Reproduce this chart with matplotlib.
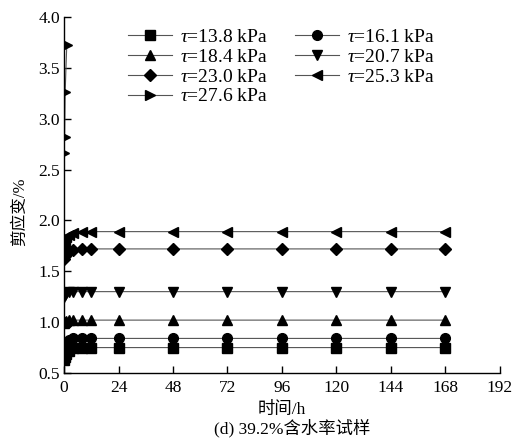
import matplotlib
matplotlib.use("Agg")
import matplotlib.pyplot as plt
from matplotlib.ticker import MultipleLocator, FormatStrFormatter

plt.rcParams['font.family'] = ['Liberation Serif', 'Noto Sans CJK SC']
plt.rcParams['mathtext.fontset'] = 'custom'
plt.rcParams['mathtext.rm'] = 'Liberation Serif'
plt.rcParams['mathtext.it'] = 'Liberation Serif:italic'

t_main = [0, 0.5, 1, 2, 4, 8, 12, 24, 48, 72, 96, 120, 144, 168]
s138 = [0.63, 0.66, 0.69, 0.72, 0.75, 0.75, 0.75, 0.75, 0.75, 0.75, 0.75, 0.75, 0.75, 0.75]
s161 = [0.73, 0.76, 0.79, 0.82, 0.84, 0.84, 0.84, 0.84, 0.84, 0.84, 0.84, 0.84, 0.84, 0.84]
s184 = [0.99, 1.00, 1.01, 1.02, 1.02, 1.02, 1.02, 1.02, 1.02, 1.02, 1.02, 1.02, 1.02, 1.02]
s207 = [1.25, 1.27, 1.29, 1.30, 1.30, 1.30, 1.30, 1.30, 1.30, 1.30, 1.30, 1.30, 1.30, 1.30]
s230 = [1.62, 1.65, 1.68, 1.70, 1.71, 1.72, 1.72, 1.72, 1.72, 1.72, 1.72, 1.72, 1.72, 1.72]
s253 = [1.77, 1.81, 1.84, 1.86, 1.88, 1.89, 1.89, 1.89, 1.89, 1.89, 1.89, 1.89, 1.89, 1.89]
t_276 = [0, 0.25, 0.5, 1.2]
s276 = [2.66, 2.82, 3.26, 3.72]

labels = ['13.8', '16.1', '18.4', '20.7', '23.0', '25.3', '27.6']
markers = ['s', 'o', '^', 'v', 'D', '<', '>']

fig = plt.figure(figsize=(5.18, 4.43), dpi=100)
ax = fig.add_axes([0.1236, 0.158, 0.8414, 0.8036])

series = [(t_main, s138), (t_main, s161), (t_main, s184), (t_main, s207),
          (t_main, s230), (t_main, s253), (t_276, s276)]
handles = []
for (t, s), lab, m in zip(series, labels, markers):
    ms = 7 if m != 'D' else 6.5
    h, = ax.plot(t, s, color='#555555', lw=0.8, marker=m, ms=ms, mfc='black', mec='black',
                 label=r'$\tau$=' + lab + ' kPa')
    handles.append(h)

ax.set_xlim(0, 192)
ax.set_ylim(0.5, 4.0)
ax.xaxis.set_major_locator(MultipleLocator(24))
ax.yaxis.set_major_locator(MultipleLocator(0.5))
ax.yaxis.set_major_formatter(FormatStrFormatter('%.1f'))
ax.spines['top'].set_visible(False)
ax.spines['right'].set_visible(False)
ax.tick_params(direction='in', length=5, labelsize=12.5, width=1, pad=3)
ax.tick_params(axis='x', pad=5)
for sp in ax.spines.values():
    sp.set_linewidth(1)

ax.set_ylabel('剪应变/%', fontsize=12)
ax.yaxis.set_label_coords(-0.082, 0.452)
ax.set_xlabel('时间/h', fontsize=12.5, labelpad=4)
fig.text(0.564, 0.013, '(d) 39.2%含水率试样', ha='center', va='bottom', fontsize=12.5)

order = [0, 2, 4, 6, 1, 3, 5]
leg = ax.legend([handles[i] for i in order], [handles[i].get_label() for i in order],
                ncol=2, loc='upper left', bbox_to_anchor=(128 / 518, (443 - 28) / 443),
                bbox_transform=fig.transFigure, frameon=False, borderpad=0, borderaxespad=0,
                fontsize=14, handlelength=2.27, handletextpad=0.4, columnspacing=1.4,
                labelspacing=0.12)

fig.savefig('out.png', dpi=100)
